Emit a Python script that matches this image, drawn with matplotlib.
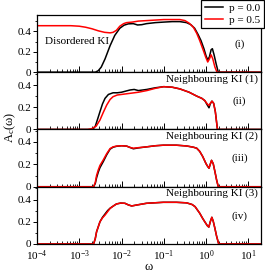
import numpy as np
import matplotlib
matplotlib.use('Agg')
import matplotlib.pyplot as plt
from matplotlib.ticker import FixedLocator, LogLocator, NullFormatter, FixedFormatter

plt.rcParams['font.family'] = ['Liberation Serif', 'DejaVu Serif']
plt.rcParams['mathtext.fontset'] = 'custom'
plt.rcParams['mathtext.rm'] = 'Liberation Serif'
plt.rcParams['mathtext.it'] = 'Liberation Serif:italic'

# ---------------------------------------------------------------
# data (x given as log10 of omega)
# ---------------------------------------------------------------
# (i) Disordered KI
p1_lw_a = [-4, -2.62, -2.55, -2.48, -2.39, -2.27, -2.16, -2.04, -1.94, -1.84, -1.72, -1.62,
           -1.52, -1.41, -1.2, -1.01, -0.8, -0.62, -0.46, -0.36, -0.27, -0.19, -0.12, -0.05,
           0.0, 0.04, 0.08, 0.12, 0.15, 0.19, 0.24, 0.29, 1.3]
p1_a = [0, 0, 0.015, 0.05, 0.13, 0.26, 0.36, 0.43, 0.46, 0.473, 0.475, 0.462,
        0.465, 0.475, 0.485, 0.49, 0.495, 0.495, 0.485, 0.465, 0.43, 0.37, 0.31, 0.23,
        0.16, 0.12, 0.15, 0.22, 0.23, 0.17, 0.08, 0, 0]
p1_lw_b = [-4, -3.2, -3.0, -2.85, -2.7, -2.55, -2.4, -2.27, -2.2, -2.12, -2.04, -1.95, -1.88,
           -1.75, -1.6, -1.4, -1.2, -1.0, -0.8, -0.62, -0.5, -0.4, -0.3, -0.22, -0.15, -0.07,
           -0.01, 0.04, 0.08, 0.12, 0.16, 0.21, 0.26, 1.3]
p1_b = [0.455, 0.455, 0.45, 0.44, 0.425, 0.405, 0.39, 0.385, 0.39, 0.41, 0.45, 0.475, 0.485,
        0.49, 0.5, 0.505, 0.51, 0.515, 0.515, 0.515, 0.505, 0.48, 0.44, 0.38, 0.31, 0.22,
        0.15, 0.10, 0.13, 0.17, 0.13, 0.05, 0, 0]

# (ii) Neighbouring KI (1)
p2_lw_a = [-4, -2.68, -2.62, -2.56, -2.51, -2.45, -2.39, -2.31, -2.2, -2.1, -2.0, -1.9, -1.8,
           -1.7, -1.6, -1.4, -1.2, -1.0, -0.8, -0.62, -0.4, -0.22, -0.1, -0.03, 0.03, 0.07,
           0.1, 0.14, 0.18, 0.22, 0.27, 1.3]
p2_a = [0, 0, 0.03, 0.1, 0.16, 0.23, 0.28, 0.315, 0.33, 0.33, 0.335, 0.345, 0.355,
        0.36, 0.35, 0.36, 0.375, 0.385, 0.38, 0.365, 0.335, 0.3, 0.28, 0.26, 0.22, 0.195,
        0.23, 0.255, 0.235, 0.16, 0, 0]
p2_lw_b = [-4, -2.8, -2.7, -2.6, -2.51, -2.43, -2.35, -2.27, -2.2, -2.1, -2.0, -1.8, -1.6,
           -1.4, -1.2, -1.0, -0.8, -0.62, -0.4, -0.22, -0.1, -0.03, 0.03, 0.07, 0.1, 0.14,
           0.18, 0.22, 0.27, 1.3]
p2_b = [0, 0, 0.008, 0.03, 0.085, 0.155, 0.22, 0.27, 0.295, 0.31, 0.315, 0.325, 0.335,
        0.35, 0.37, 0.385, 0.38, 0.365, 0.335, 0.3, 0.28, 0.26, 0.23, 0.215, 0.235, 0.255,
        0.235, 0.16, 0, 0]

# (iii) Neighbouring KI (2)
p3_lw = [-4, -2.66, -2.62, -2.59, -2.55, -2.51, -2.43, -2.35, -2.27, -2.2, -2.12, -2.0,
         -1.88, -1.8, -1.72, -1.6, -1.41, -1.2, -1.01, -0.7, -0.46, -0.3, -0.22, -0.15,
         -0.08, 0.0, 0.04, 0.07, 0.1, 0.13, 0.17, 0.21, 0.25, 0.29, 1.3]
p3_a = [0, 0, 0.03, 0.08, 0.13, 0.17, 0.225, 0.285, 0.335, 0.352, 0.36, 0.365,
        0.362, 0.35, 0.338, 0.346, 0.355, 0.365, 0.37, 0.37, 0.363, 0.352, 0.343, 0.315,
        0.27, 0.205, 0.18, 0.165, 0.2, 0.235, 0.205, 0.135, 0.06, 0, 0]
p3_b = [0, 0, 0.04, 0.1, 0.15, 0.19, 0.24, 0.295, 0.34, 0.355, 0.362, 0.365,
        0.362, 0.35, 0.343, 0.348, 0.355, 0.365, 0.37, 0.37, 0.363, 0.352, 0.343, 0.315,
        0.27, 0.205, 0.18, 0.165, 0.2, 0.235, 0.205, 0.135, 0.06, 0, 0]

# (iv) Neighbouring KI (3)
p4_lw = [-4, -2.66, -2.62, -2.59, -2.55, -2.51, -2.45, -2.39, -2.33, -2.27, -2.2, -2.12,
         -2.02, -1.92, -1.84, -1.76, -1.65, -1.41, -1.01, -0.7, -0.46, -0.33, -0.26, -0.15,
         -0.08, -0.03, 0.03, 0.066, 0.1, 0.137, 0.17, 0.21, 0.25, 0.30, 1.3]
p4_a = [0, 0, 0.05, 0.11, 0.155, 0.2, 0.24, 0.27, 0.30, 0.322, 0.34, 0.36,
        0.368, 0.366, 0.352, 0.342, 0.35, 0.366, 0.375, 0.375, 0.37, 0.355, 0.336, 0.277,
        0.23, 0.2, 0.165, 0.152, 0.2, 0.24, 0.205, 0.14, 0.07, 0, 0]
p4_b = [0, 0, 0.05, 0.11, 0.155, 0.2, 0.235, 0.26, 0.29, 0.32, 0.34, 0.36,
        0.368, 0.366, 0.352, 0.342, 0.35, 0.366, 0.375, 0.375, 0.37, 0.355, 0.336, 0.277,
        0.23, 0.2, 0.165, 0.152, 0.2, 0.24, 0.205, 0.14, 0.07, 0, 0]

panels = [
    (p1_lw_a, p1_a, p1_lw_b, p1_b, 'Disordered KI', '(i)', 0.56),
    (p2_lw_a, p2_a, p2_lw_b, p2_b, 'Neighbouring KI (1)', '(ii)', 0.515),
    (p3_lw, p3_a, p3_lw, p3_b, 'Neighbouring KI (2)', '(iii)', 0.51),
    (p4_lw, p4_a, p4_lw, p4_b, 'Neighbouring KI (3)', '(iv)', 0.515),
]
labels = ['p = 0.0', 'p = 0.5']
colors = ['black', 'red']

fig, axes = plt.subplots(4, 1, sharex=True, figsize=(2.65, 2.72), dpi=100)
fig.subplots_adjust(left=0.1396, right=0.985, top=0.945, bottom=0.103, hspace=0)

fs = 8
for i, (ax, (xa, ya, xb, yb, name, tag, ymax)) in enumerate(zip(axes, panels)):
    ax.plot(np.power(10.0, xa), ya, color=colors[0], lw=1.1, label=labels[0])
    ax.plot(np.power(10.0, xb), yb, color=colors[1], lw=1.1, label=labels[1])
    ax.set_xscale('log')
    ax.set_xlim(1e-4, 20)
    ax.set_ylim(0, ymax)
    ax.yaxis.set_major_locator(FixedLocator([0, 0.2, 0.4]))
    ax.yaxis.set_major_formatter(FixedFormatter(['0', '0.2', '0.4']))
    ax.yaxis.set_minor_locator(FixedLocator([0.1, 0.3, 0.5]))
    ax.xaxis.set_major_locator(LogLocator(base=10, numticks=10))
    ax.xaxis.set_minor_locator(LogLocator(base=10, subs=np.arange(2, 10), numticks=10))
    ax.xaxis.set_minor_formatter(NullFormatter())
    ax.tick_params(axis='x', which='major', direction='in', length=4.5, width=0.7,
                   top=False, labelsize=fs, pad=3)
    ax.tick_params(axis='x', which='minor', direction='in', length=2.5, width=0.6, top=False)
    ax.tick_params(axis='y', which='major', direction='out', length=3, width=0.7,
                   right=False, labelsize=fs, pad=1)
    ax.tick_params(axis='y', which='minor', direction='out', length=1.5, width=0.6, right=False)
    for s in ax.spines.values():
        s.set_linewidth(0.9)
    if i == 0:
        ax.text(0.036, 0.53, name, transform=ax.transAxes, fontsize=fs,
                ha='left', va='center')
    else:
        ax.text(0.987, 0.885, name, transform=ax.transAxes, fontsize=fs,
                ha='right', va='center')
    ax.text(0.905, 0.49, tag, transform=ax.transAxes, fontsize=fs,
            ha='center', va='center')

axes[-1].set_xlabel('ω', fontsize=9, labelpad=-1)
fig.text(10 / 265, 1 - 127 / 272, r'A$_{\mathregular{c}}$(ω)', rotation=90,
         fontsize=9, ha='center', va='center')

h, l = axes[0].get_legend_handles_labels()
leg = fig.legend(h, l, loc='upper right', bbox_to_anchor=(0.995, 1.0), frameon=True,
                 fancybox=False, edgecolor='black', framealpha=1, borderaxespad=0,
                 handlelength=1.6, fontsize=fs, borderpad=0.3, labelspacing=0.2,
                 handletextpad=0.6)
leg.get_frame().set_linewidth(0.9)

fig.savefig('out.png', dpi=100)
